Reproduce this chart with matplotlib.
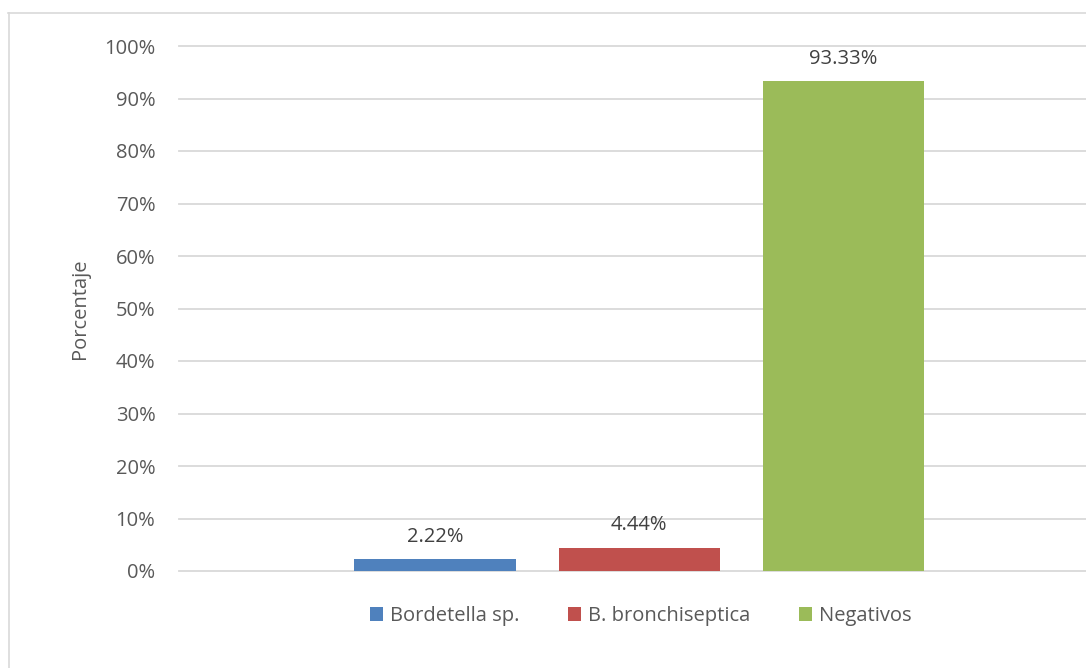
import matplotlib.pyplot as plt
from matplotlib.lines import Line2D
from matplotlib.patches import Patch

# data
series = ['Bordetella sp.', 'B. bronchiseptica', 'Negativos']
values = [2.22, 4.44, 93.33]
colors = ['#4f81bd', '#c0504d', '#9bbb59']
y_ticks = [0, 10, 20, 30, 40, 50, 60, 70, 80, 90, 100]

plt.rcParams['font.family'] = ['Open Sans', 'DejaVu Sans']
text_color = '#595959'
grid_color = '#d9d9d9'
fs = 14.5

W, H = 1086, 668
fig = plt.figure(figsize=(W / 100, H / 100), dpi=100)

# plot area placed in pixel terms
left, right, top, bottom = 179, 1086, 46, 571
ax = fig.add_axes([left / W, (H - bottom) / H, (right - left) / W, (bottom - top) / H])

x = list(range(len(series)))
bars = ax.bar(x, values, width=0.79, color=colors, zorder=3)
for xi, v in zip(x, values):
    ax.annotate(f'{v:.2f}%', (xi, v), xytext=(0, 9), textcoords='offset points',
                ha='center', va='bottom', fontsize=fs, color='#404040')

ax.set_xlim(-1.255, 3.19)
ax.set_ylim(0, 100)
ax.set_yticks(y_ticks)
ax.set_yticklabels([f'{t}%' for t in y_ticks])
ax.set_xticks([])
ax.grid(axis='y', color=grid_color, linewidth=1.3, zorder=0)
for gl in ax.get_ygridlines():
    gl.set_clip_on(False)
for s in ax.spines.values():
    s.set_visible(False)
ax.tick_params(axis='y', length=0, pad=17, labelsize=fs, labelcolor=text_color)
ax.set_ylabel('Porcentaje', fontsize=fs, color=text_color, labelpad=10)

# legend
handles = [Patch(facecolor=c, edgecolor='none') for c in colors]
fig.legend(handles, series, loc='center', bbox_to_anchor=(641 / W, (H - 616) / H),
           ncol=3, frameon=False, fontsize=fs, labelcolor=text_color,
           handlelength=0.65, handleheight=0.65, handletextpad=0.35, columnspacing=2.4)

# chart border (top and left visible)
fig.add_artist(Line2D([8.5 / W, 8.5 / W], [0, (H - 13) / H], color=grid_color, linewidth=1.2))
fig.add_artist(Line2D([8 / W, 1], [(H - 13) / H, (H - 13) / H], color=grid_color, linewidth=1.2))

fig.savefig('out.png', dpi=100)
